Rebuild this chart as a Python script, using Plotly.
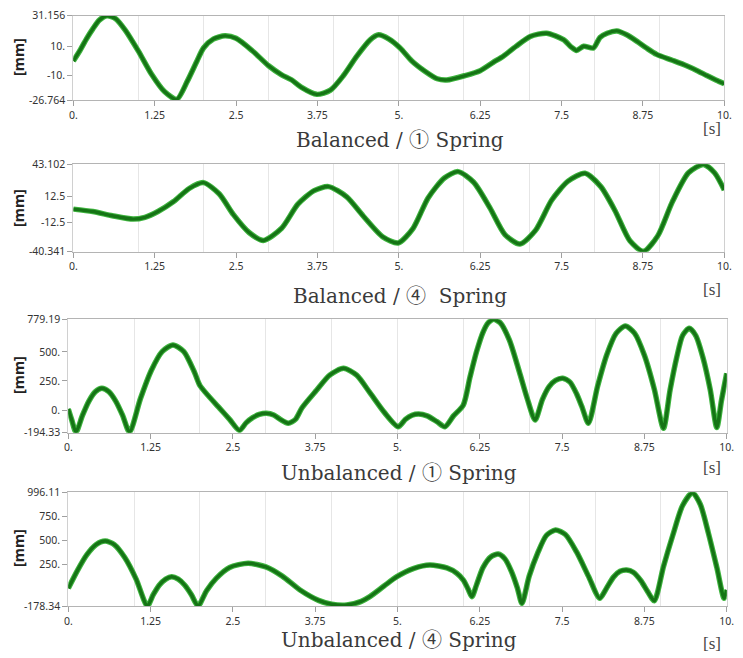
import plotly.graph_objects as go

# ---------------- data ----------------
t1 = [0.0, 0.1, 0.2, 0.3, 0.4, 0.52, 0.65, 0.8, 1.0, 1.2, 1.4, 1.59, 1.75, 1.9, 2.0, 2.15, 2.33, 2.5,
      2.75, 3.0, 3.2, 3.35, 3.5, 3.74, 3.95, 4.15, 4.35, 4.56, 4.69, 4.85, 5.02, 5.2, 5.4, 5.59, 5.74,
      6.02, 6.25, 6.45, 6.61, 6.8, 7.02, 7.27, 7.53, 7.65, 7.73, 7.84, 7.99, 8.09, 8.2, 8.35, 8.5, 8.66,
      8.8, 8.96, 9.2, 9.42, 9.6, 9.73, 9.87, 10.0]
v1 = [0.0, 7, 15, 22, 28, 31, 29, 21, 6.7, -9, -21, -26.3, -14, 0, 8.9, 15, 17.2, 15.5,
      7, -3.3, -9.5, -12.9, -18, -22.9, -20, -10, 3, 14.5, 17.9, 15, 8.9, 0, -7, -12.2, -13,
      -10, -6.7, -1, 3.4, 10, 16.8, 19, 14.6, 9.5, 7.2, 10.1, 8.9, 16.1, 19, 20.6, 18, 13.4,
      9, 4.5, 0.5, -3.3, -7, -10, -13, -15.6]

t2 = [0.0, 0.3, 0.6, 0.92, 1.1, 1.3, 1.54, 1.78, 2.0, 2.24, 2.46, 2.7, 2.92, 3.2, 3.45, 3.7, 3.92,
      4.2, 4.45, 4.75, 4.99, 5.22, 5.45, 5.7, 5.91, 6.15, 6.4, 6.63, 6.86, 7.1, 7.35, 7.6, 7.86,
      8.1, 8.32, 8.55, 8.76, 8.98, 9.2, 9.45, 9.68, 9.85, 10.0]
v2 = [0.3, -2, -6, -9.2, -7.5, -2, 7.5, 20, 25.6, 15, -5, -22, -29.6, -18, 5, 18, 21.8,
      12, -6, -26, -32, -18, 11, 30, 36.1, 26, 1.5, -24, -33, -20, 9, 27, 34.5,
      22, -1, -30, -40, -25, 7, 35, 43, 35, 18.6]

t3 = [0.0, 0.05, 0.117, 0.215, 0.313, 0.412, 0.51, 0.615, 0.72, 0.825, 0.93, 1.095, 1.26, 1.425,
      1.59, 1.755, 1.92, 2.0, 2.3, 2.45, 2.6, 2.7, 2.8, 2.9, 3.01, 3.12, 3.22, 3.34, 3.45, 3.55,
      3.77, 3.97, 4.18, 4.38, 4.58, 4.8, 5.01, 5.12, 5.22, 5.32, 5.45, 5.6, 5.72, 5.85, 6.0, 6.1,
      6.2, 6.3, 6.38, 6.46, 6.56, 6.7, 6.85, 6.97, 7.09, 7.2, 7.3, 7.4, 7.51, 7.62, 7.72, 7.8, 7.9,
      8.04, 8.18, 8.32, 8.46, 8.6, 8.75, 8.9, 9.04, 9.14, 9.24, 9.33, 9.43, 9.53, 9.64, 9.75, 9.85,
      9.92, 10.0]
v3 = [9, -80, -190, -46, 77, 158, 187, 158, 77, -46, -190, 97, 340, 502,
      559, 502, 320, 210, 15, -80, -175, -110, -65, -38, -28, -42, -80, -113, -80, 20,
      170, 300, 359, 300, 150, -20, -143, -80, -45, -34, -50, -100, -143, -50, 44, 280,
      500, 670, 750, 779, 750, 600, 330, 100, -85, 90, 200, 255, 273, 240, 140, 30, -113,
      207, 477, 658, 722, 660, 470, 180, -156, 172, 450, 640, 702, 640, 450, 175, -150,
      80, 315]

t4 = [0.0, 0.14, 0.28, 0.42, 0.56, 0.7, 0.86, 1.03, 1.2, 1.29, 1.38, 1.48, 1.57, 1.67, 1.77, 1.87,
      1.97, 2.1, 2.25, 2.45, 2.73, 3.0, 3.25, 3.52, 3.8, 4.0, 4.23, 4.45, 4.58, 4.8, 4.99, 5.25,
      5.49, 5.75, 5.9, 6.0, 6.07, 6.13, 6.2, 6.3, 6.42, 6.53, 6.63, 6.73, 6.82, 6.89, 7.0, 7.13,
      7.26, 7.4, 7.55, 7.72, 7.9, 8.07, 8.17, 8.28, 8.38, 8.48, 8.58, 8.7, 8.8, 8.9, 9.04, 9.18,
      9.33, 9.48, 9.6, 9.72, 9.85, 9.96, 10.0]
v4 = [4, 190, 350, 455, 493, 455, 320, 100, -178, -62, 36, 100, 124, 100, 36, -62,
      -178, -20, 110, 220, 263, 225, 130, -13, -120, -160, -168, -130, -82, 30, 124, 210,
      245, 215, 160, 90, 0, -82, 40, 220, 330, 358, 310, 180, 10, -151, 130, 370,
      550, 607, 560, 380, 130, -99, 0, 120, 180, 193, 170, 80, -30, -124, 230, 550,
      860, 992, 870, 580, 220, -99, -13]

xtick_vals = [0, 1.25, 2.5, 3.75, 5, 6.25, 7.5, 8.75, 10]
xtick_text = ["0.", "1.25", "2.5", "3.75", "5.", "6.25", "7.5", "8.75", "10."]

ytick_vals1 = [-26.764, -10, 10, 31.156]
ytick_text1 = ["-26.764", "-10.", "10.", "31.156"]
ytick_vals2 = [-40.341, -12.5, 12.5, 43.102]
ytick_text2 = ["-40.341", "-12.5", "12.5", "43.102"]
ytick_vals3 = [-194.33, 0, 250, 500, 779.19]
ytick_text3 = ["-194.33", "0.", "250.", "500.", "779.19"]
ytick_vals4 = [-178.34, 250, 500, 750, 996.11]
ytick_text4 = ["-178.34", "250.", "500.", "750.", "996.11"]

titles = ["Balanced / ① Spring", "Balanced / ④  Spring",
          "Unbalanced / ① Spring", "Unbalanced / ④ Spring"]

# ---------------- layout geometry (pixels of the page) ----------------
OFF = 8                     # page body margin in the browser
W, H = 743 - OFF, 658 - OFF  # figure size so it fits the window exactly
panels = [
    # (x0, x1, ytop, ybottom, title_y, s_y, mm_y)  in page pixels
    (73.3, 724.3, 15.5, 100.0, 140, 128, 57),
    (73.3, 724.3, 164.3, 251.7, 296, 289, 208),
    (68.3, 726.7, 319.3, 432.7, 473, 467, 375),
    (68.3, 726.7, 492.3, 606.0, 640, 643, 548),
]
series = [(t1, v1, ytick_vals1, ytick_text1), (t2, v2, ytick_vals2, ytick_text2),
          (t3, v3, ytick_vals3, ytick_text3), (t4, v4, ytick_vals4, ytick_text4)]


def px(x):
    return (x - OFF) / W


def py(y):
    return 1 - (y - OFF) / H


fig = go.Figure()
tick_font = dict(family="Noto Sans, DejaVu Sans, sans-serif", size=10.5, color="#333333")
title_font = dict(family="DejaVu Serif, Liberation Serif, Noto Sans CJK KR, serif", size=20, color="#3a3a3a")

annotations = []
for i, ((x0, x1, yt, yb, ty, sy, my), (tt, vv, yv, ytx)) in enumerate(zip(panels, series)):
    n = "" if i == 0 else str(i + 1)
    xa, ya = "x" + n, "y" + n
    for w, c in [(5.5, "#3fb43f"), (3.4, "#157415")]:
        fig.add_trace(go.Scatter(x=tt, y=vv, mode="lines", xaxis=xa, yaxis=ya,
                                 line=dict(color=c, width=w, shape="spline", smoothing=0.7),
                                 showlegend=False, hoverinfo="skip"))
    fig.layout["xaxis" + n] = dict(
        domain=[px(x0), px(x1)], anchor=ya, range=[0, 10], automargin=False,
        ticklabeloverflow="allow",
        tickvals=xtick_vals, ticktext=xtick_text, ticks="outside", ticklen=5,
        tickcolor="#a0a0a0", tickfont=tick_font, showgrid=False, zeroline=False,
        showline=True, linecolor="#b4b4b4", linewidth=1, mirror=True,
        minor=dict(tick0=0, dtick=1, showgrid=True, gridcolor="#e6e6e6", ticks=""),
    )
    fig.layout["yaxis" + n] = dict(
        domain=[py(yb), py(yt)], anchor=xa, range=[yv[0], yv[-1]], automargin=False,
        ticklabeloverflow="allow",
        tickvals=yv, ticktext=ytx, ticks="outside", ticklen=5, tickcolor="#a0a0a0",
        tickfont=tick_font, showgrid=False, zeroline=False,
        showline=True, linecolor="#d0d0d0", linewidth=1, mirror=True,
    )
    annotations.append(dict(text=titles[i], x=px((x0 + x1) / 2 + 1), y=py(ty),
                            xref="paper", yref="paper", showarrow=False, font=title_font,
                            xanchor="center", yanchor="middle"))
    annotations.append(dict(text="[s]", x=px(712), y=py(sy), xref="paper", yref="paper",
                            showarrow=False, xanchor="center", yanchor="middle",
                            font=dict(family="Liberation Serif, serif", size=17, color="#444444")))
    annotations.append(dict(text="<b>[mm]</b>", x=px(18), y=py(my), xref="paper", yref="paper",
                            showarrow=False, textangle=-90, xanchor="center", yanchor="middle",
                            font=dict(family="Noto Sans, DejaVu Sans, sans-serif", size=14.5, color="#222222")))

fig.update_layout(width=W, height=H, margin=dict(l=0, r=0, t=0, b=0),
                  paper_bgcolor="white", plot_bgcolor="white", annotations=annotations)

fig.write_html("out.html")
